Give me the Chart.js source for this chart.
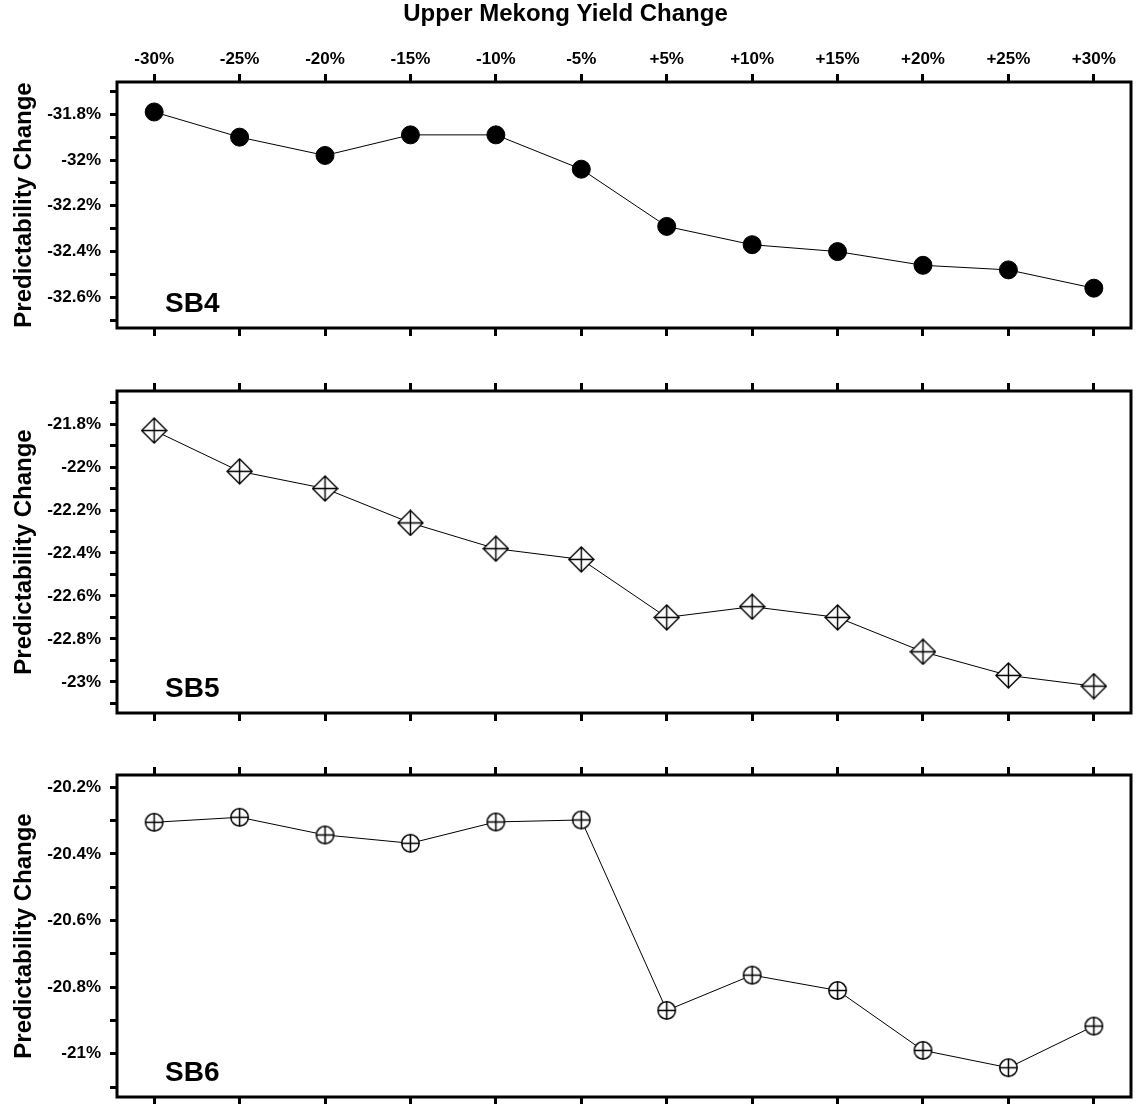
<!DOCTYPE html>
<html>
<head>
<meta charset="utf-8">
<script src="https://cdn.jsdelivr.net/npm/chart.js@4/dist/chart.umd.min.js"></script>
<style>
  html, body { margin: 0; padding: 0; background: #fff; }
  body { width: 1136px; height: 1104px; position: relative; overflow: hidden; }
  canvas { position: absolute; left: 0; }
</style>
</head>
<body>
<canvas id="p1" width="1136" height="345" style="top:0px"></canvas>
<canvas id="p2" width="1136" height="375" style="top:350px"></canvas>
<canvas id="p3" width="1136" height="374" style="top:730px"></canvas>
<script>
// Scenario labels along the x axis
const yieldChange = ['-30%', '-25%', '-20%', '-15%', '-10%', '-5%', '+5%', '+10%', '+15%', '+20%', '+25%', '+30%'];

// Predictability change (%) per sub-basin
const sb4 = [-31.79, -31.90, -31.98, -31.89, -31.89, -32.04, -32.29, -32.37, -32.40, -32.46, -32.48, -32.56];
const sb5 = [-21.83, -22.02, -22.10, -22.26, -22.38, -22.43, -22.70, -22.65, -22.70, -22.86, -22.97, -23.02];
const sb6 = [-20.305, -20.29, -20.343, -20.368, -20.304, -20.298, -20.87, -20.764, -20.81, -20.99, -21.042, -20.917];

const panelNames = ['SB4', 'SB5', 'SB6'];
const yRanges = [[-32.734, -31.659], [-23.145, -21.646], [-21.13, -20.163]];

const FONT = '"Liberation Sans", Arial, Helvetica, sans-serif';

// Marker: diamond with a cross through it
function diamondCross() {
  const c = document.createElement('canvas');
  c.width = 27; c.height = 27;
  const g = c.getContext('2d');
  g.strokeStyle = '#000'; g.lineWidth = 1.4; g.fillStyle = '#fff';
  g.beginPath();
  g.moveTo(13.5, 1); g.lineTo(26, 13.5); g.lineTo(13.5, 26); g.lineTo(1, 13.5); g.closePath();
  g.fill(); g.stroke();
  g.beginPath();
  g.moveTo(13.5, 1); g.lineTo(13.5, 26);
  g.moveTo(1, 13.5); g.lineTo(26, 13.5);
  g.stroke();
  return c;
}

// Marker: circle with a plus inside
function circlePlus() {
  const c = document.createElement('canvas');
  c.width = 21; c.height = 21;
  const g = c.getContext('2d');
  g.strokeStyle = '#000'; g.lineWidth = 1.5; g.fillStyle = '#fff';
  g.beginPath(); g.arc(10.5, 10.5, 8.7, 0, Math.PI * 2); g.fill(); g.stroke();
  g.beginPath();
  g.moveTo(10.5, 1.8); g.lineTo(10.5, 19.2);
  g.moveTo(1.8, 10.5); g.lineTo(19.2, 10.5);
  g.stroke();
  return c;
}

// Thick frame around the plot area plus the sub-basin name
const framePlugin = {
  id: 'frame',
  afterDraw(chart, args, opts) {
    const a = chart.chartArea;
    const ctx = chart.ctx;
    ctx.save();
    ctx.strokeStyle = '#000';
    ctx.lineWidth = 3;
    ctx.strokeRect(a.left, a.top, a.right - a.left, a.bottom - a.top);
    ctx.fillStyle = '#000';
    ctx.font = 'bold 28px ' + FONT;
    ctx.textAlign = 'left';
    ctx.textBaseline = 'alphabetic';
    ctx.fillText(opts.name, a.left + 48, a.bottom - 16);
    ctx.restore();
  }
};

function yTickLabel(v) {
  const k = Math.round(v * 10);
  if (k % 2 !== 0) return '';
  return (k / 10) + '%';
}

// Ticks every 0.1 inside the axis range
function tenthTicks(scale) {
  const lo = Math.ceil(scale.min * 10 - 1e-6);
  const hi = Math.floor(scale.max * 10 + 1e-6);
  const t = [];
  for (let k = lo; k <= hi; k++) t.push({ value: k / 10 });
  scale.ticks = t;
}

function makePanel(id, values, idx, marker, topH, bottomH, showTitle) {
  const points = values.map((v, i) => ({ x: i, y: v }));
  const xCommon = {
    type: 'linear',
    min: -0.435,
    max: 11.435,
    grid: { drawOnChartArea: false, drawTicks: true, tickLength: 8, tickWidth: 3, tickColor: '#000' },
    border: { display: false },
    ticks: {
      stepSize: 1,
      includeBounds: false,
      autoSkip: false,
      maxRotation: 0,
      color: '#000',
      font: { family: FONT, size: 17, weight: 'bold' },
      padding: 4
    }
  };
  const xTop = Object.assign({}, xCommon, {
    position: 'top',
    ticks: Object.assign({}, xCommon.ticks, {
      display: showTitle,
      callback: (v) => Number.isInteger(v) ? yieldChange[v] : ''
    }),
    afterFit: (s) => { s.height = topH; s.paddingLeft = 0; s.paddingRight = 0; }
  });
  const xBottom = Object.assign({}, xCommon, {
    position: 'bottom',
    ticks: Object.assign({}, xCommon.ticks, { display: false }),
    afterFit: (s) => { s.height = bottomH; s.paddingLeft = 0; s.paddingRight = 0; }
  });

  const ds = {
    data: points,
    borderColor: '#000',
    borderWidth: 1,
    showLine: true,
    tension: 0,
    pointStyle: marker === 'dot' ? 'circle' : marker,
    pointRadius: 9,
    pointBackgroundColor: '#000',
    pointBorderColor: '#000',
    pointBorderWidth: 1,
    pointHoverRadius: 9
  };

  return new Chart(document.getElementById(id), {
    type: 'scatter',
    data: { datasets: [ds] },
    plugins: [framePlugin],
    options: {
      responsive: false,
      animation: false,
      devicePixelRatio: 1,
      layout: { autoPadding: false, padding: { left: 0, right: 5, top: 0, bottom: 0 } },
      plugins: {
        legend: { display: false },
        tooltip: { enabled: false },
        title: {
          display: showTitle,
          text: 'Upper Mekong Yield Change',
          color: '#000',
          font: { family: FONT, size: 24, weight: 'bold' },
          padding: { top: 0, bottom: 0 }
        },
        frame: { name: panelNames[idx] }
      },
      scales: {
        x: xTop,
        x2: xBottom,
        y: {
          type: 'linear',
          position: 'left',
          min: yRanges[idx][0],
          max: yRanges[idx][1],
          grid: { drawOnChartArea: false, drawTicks: true, tickLength: 7, tickWidth: 3, tickColor: '#000' },
          border: { display: false },
          afterBuildTicks: tenthTicks,
          ticks: {
            autoSkip: false,
            color: '#000',
            font: { family: FONT, size: 17, weight: 'bold' },
            padding: 9,
            callback: yTickLabel
          },
          title: {
            display: true,
            text: 'Predictability Change',
            color: '#000',
            font: { family: FONT, size: 24, weight: 'bold' },
            padding: { top: 10, bottom: 0 }
          },
          afterFit: (s) => { s.width = 117; s.paddingTop = 0; s.paddingBottom = 0; }
        }
      }
    }
  });
}

makePanel('p1', sb4, 0, 'dot', 82 - 28.8, 17, true);
makePanel('p2', sb5, 1, diamondCross(), 41, 12, false);
makePanel('p3', sb6, 2, circlePlus(), 45, 7, false);
</script>
</body>
</html>
